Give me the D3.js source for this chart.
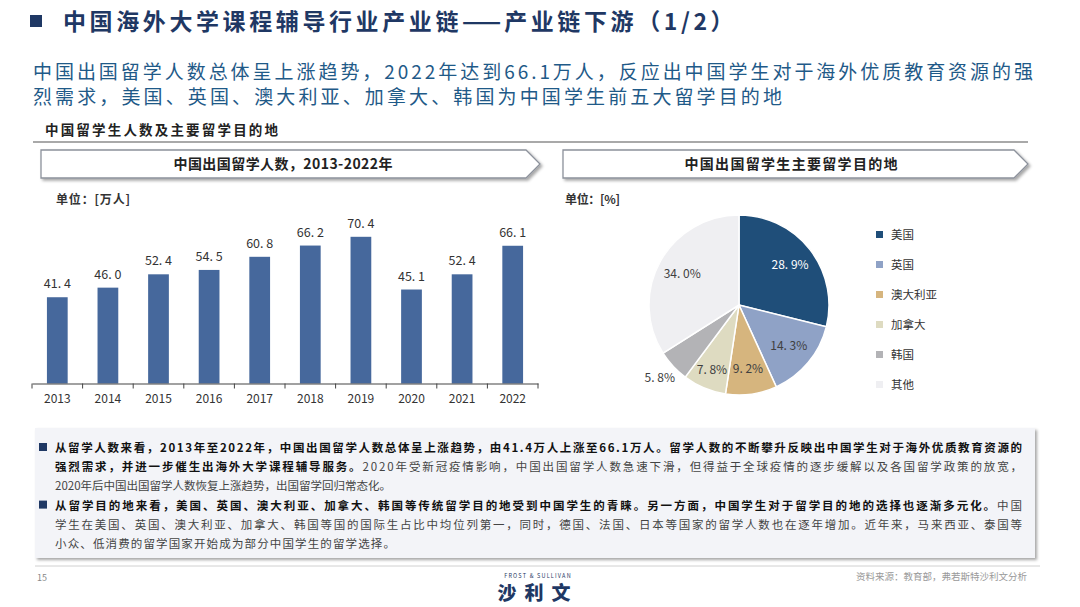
<!DOCTYPE html>
<html><head><meta charset="utf-8">
<script src="https://cdn.jsdelivr.net/npm/d3@7/dist/d3.min.js"></script>
<style>
body{margin:0;background:#fff;}
svg{display:block;font-family:"Noto Sans CJK SC","Noto Sans",sans-serif;}
</style></head>
<body>
<svg id="c" width="1080" height="607"></svg>
<script>
const years = ["2013","2014","2015","2016","2017","2018","2019","2020","2021","2022"];
const students = [41.4,46.0,52.4,54.5,60.8,66.2,70.4,45.1,52.4,66.1];
const destinations = ["美国","英国","澳大利亚","加拿大","韩国","其他"];
const shares = [28.9,14.3,9.2,7.8,5.8,34.0];
const shareColors = ["#1f4e79","#8fa2c6","#d6b57e","#dedbc1","#b3b3b6","#efeff2"];
const shareLabelColors = ["#ffffff","#404040","#404040","#404040","#404040","#404040"];

const titleParts = ["中国海外大学课程辅导行业产业链","——","产业链下游（1/2）"];
const subtitle = ["中国出国留学人数总体呈上涨趋势，2022年达到66.1万人，反应出中国学生对于海外优质教育资源的强",
                  "烈需求，美国、英国、澳大利亚、加拿大、韩国为中国学生前五大留学目的地"];
const sectionLabel = "中国留学生人数及主要留学目的地";
const barTitle = "中国出国留学人数，2013-2022年";
const pieTitle = "中国出国留学生主要留学目的地";
const notes = [
  [{t:"从留学人数来看，2013年至2022年，中国出国留学人数总体呈上涨趋势，由41.4万人上涨至66.1万人。留学人数的不断攀升反映出中国学生对于海外优质教育资源的",b:true}],
  [{t:"强烈需求，并进一步催生出海外大学课程辅导服务。",b:true},{t:"2020年受新冠疫情影响，中国出国留学人数急速下滑，但得益于全球疫情的逐步缓解以及各国留学政策的放宽，",b:false}],
  [{t:"2020年后中国出国留学人数恢复上涨趋势，出国留学回归常态化。",b:false}],
  [{t:"从留学目的地来看，美国、英国、澳大利亚、加拿大、韩国等传统留学目的地受到中国学生的青睐。另一方面，中国学生对于留学目的地的选择也逐渐多元化。",b:true},{t:"中国",b:false}],
  [{t:"学生在美国、英国、澳大利亚、加拿大、韩国等国的国际生占比中均位列第一，同时，德国、法国、日本等国家的留学人数也在逐年增加。近年来，马来西亚、泰国等",b:false}],
  [{t:"小众、低消费的留学国家开始成为部分中国学生的留学选择。",b:false}]
];
const noteLen = [967,967,null,967,967,340];
const noteBullet = [true,false,false,true,false,false];

const svg = d3.select("#c");
const defs = svg.append("defs");
const f = defs.append("filter").attr("id","sh").attr("x","-5%").attr("y","-20%").attr("width","110%").attr("height","150%");
f.append("feDropShadow").attr("dx",2).attr("dy",2).attr("stdDeviation",1.5).attr("flood-color","#000").attr("flood-opacity",0.35);

// Title
svg.append("rect").attr("x",30).attr("y",15).attr("width",12).attr("height",12).attr("fill","#1f3864");
const tt = svg.append("text").attr("x",63).attr("y",30).attr("font-size",23).attr("font-weight","bold").attr("fill","#1f3864");
tt.append("tspan").attr("letter-spacing",3.6).text(titleParts[0]);
tt.append("tspan").attr("letter-spacing",0).text(titleParts[1]);
tt.append("tspan").attr("dx",3).attr("letter-spacing",3.6).text(titleParts[2]);

// Subtitle
const subLen = [1000,749];
subtitle.forEach((s,i)=>{
  svg.append("text").attr("x",33).attr("y",79+i*25).attr("font-size",19).attr("fill","#1f5a88")
    .attr("textLength",subLen[i]).attr("lengthAdjust","spacing").text(s);
});

// Section label
svg.append("text").attr("x",45).attr("y",135).attr("font-size",13.5).attr("font-weight","bold").attr("fill","#222")
  .attr("textLength",233).attr("lengthAdjust","spacing").text(sectionLabel);
svg.append("line").attr("x1",33).attr("x2",1028).attr("y1",142).attr("y2",142).attr("stroke","#555").attr("stroke-width",1.2);

// Banners
function banner(x0,x1,label,cx,len){
  const top=150,bot=178,mid=164,tip=14;
  svg.append("path").attr("d",`M${x0},${top}L${x1-tip},${top}L${x1},${mid}L${x1-tip},${bot}L${x0},${bot}Z`)
    .attr("fill","#fff").attr("stroke","#8c919b").attr("stroke-width",1.3).attr("filter","url(#sh)");
  svg.append("text").attr("x",cx-len/2).attr("y",mid+5).attr("font-size",14)
    .attr("font-weight","bold").attr("fill","#222").attr("textLength",len).attr("lengthAdjust","spacing").text(label);
}
banner(41,540,barTitle,283,219);
banner(563,1028,pieTitle,791,213);

// Units
svg.append("text").attr("x",56).attr("y",204).attr("font-size",12).attr("font-weight","bold").attr("fill","#333")
  .attr("textLength",74).attr("lengthAdjust","spacing").text("单位：[万人]");
svg.append("text").attr("x",565).attr("y",204).attr("font-size",12).attr("font-weight","bold").attr("fill","#333")
  .attr("textLength",55).attr("lengthAdjust","spacing").text("单位：[%]");

// Bar chart
const x = d3.scaleBand().domain(years).range([32,538]).paddingInner(0.59).paddingOuter(0.295);
const y = d3.scaleLinear().domain([0,70.4]).range([383.5,236.8]);
const g = svg.append("g");
g.selectAll("rect.bar").data(students).join("rect").attr("class","bar")
  .attr("x",(d,i)=>x(years[i])).attr("width",x.bandwidth())
  .attr("y",d=>y(d)).attr("height",d=>y(0)-y(d)).attr("fill","#46689c");
g.selectAll("text.val").data(students).join("text").attr("class","val")
  .attr("x",(d,i)=>x(years[i])+x.bandwidth()/2).attr("y",d=>y(d)-9)
  .attr("text-anchor","middle").attr("font-size",12.5).attr("fill","#333")
  .text(d=>d.toFixed(1).replace(".",". "));
const xAxis = d3.axisBottom(x).tickSize(0).tickPadding(11);
const ax = g.append("g").attr("transform",`translate(0,${y(0)})`).call(xAxis);
ax.select(".domain").attr("stroke","#444").attr("stroke-width",1.2);
ax.selectAll("text").attr("font-size",12).attr("fill","#333").attr("font-family","Noto Sans CJK SC");
const step = x.step();
const seps = d3.range(years.length+1).map(i=>32+i*step);
g.selectAll("line.sep").data(seps).join("line").attr("class","sep")
  .attr("x1",d=>d).attr("x2",d=>d).attr("y1",y(0)).attr("y2",y(0)+5).attr("stroke","#444");

// Pie
const cx=739, cy=305, r=90;
const pie = d3.pie().sort(null).value(d=>d)(shares);
const arc = d3.arc().innerRadius(0).outerRadius(r);
const pg = svg.append("g").attr("transform",`translate(${cx},${cy})`);
pg.selectAll("path").data(pie).join("path").attr("d",arc)
  .attr("fill",(d,i)=>shareColors[i]).attr("stroke","#fff").attr("stroke-width",1.5);
const labelR = [0.72,0.72,0.72,0.78,1.2,0.72];
pg.selectAll("text").data(pie).join("text")
  .attr("transform",(d,i)=>{
    const a=(d.startAngle+d.endAngle)/2; const rr=r*labelR[i];
    return `translate(${Math.sin(a)*rr},${-Math.cos(a)*rr+4})`;})
  .attr("text-anchor","middle").attr("font-size",12).attr("fill",(d,i)=>shareLabelColors[i])
  .text((d,i)=>shares[i].toFixed(1).replace(".",". ")+"%");

// Legend
const lg = svg.append("g");
destinations.forEach((n,i)=>{
  lg.append("rect").attr("x",876).attr("y",231+i*30).attr("width",7).attr("height",7).attr("fill",shareColors[i]);
  lg.append("text").attr("x",891).attr("y",239+i*30).attr("font-size",11.5).attr("fill","#333").text(n);
});

// Notes box
svg.append("rect").attr("x",35).attr("y",428).attr("width",1000).attr("height",130)
  .attr("fill","#f3f4f8").attr("filter","url(#sh)");
notes.forEach((line,i)=>{
  const yy = 452+i*19.2;
  if(noteBullet[i]) svg.append("rect").attr("x",39).attr("y",yy-9).attr("width",8).attr("height",8).attr("fill","#1f3864");
  const t = svg.append("text").attr("x",55).attr("y",yy).attr("font-size",11.5).attr("fill","#222");
  if(noteLen[i]) t.attr("textLength",noteLen[i]).attr("lengthAdjust","spacing");
  line.forEach(s=>t.append("tspan").attr("font-weight",s.b?"bold":"normal").attr("fill",s.b?"#111":"#444").text(s.t));
});

// Footer
svg.append("line").attr("x1",35).attr("x2",1040).attr("y1",566).attr("y2",566).attr("stroke","#d0d0d0").attr("stroke-width",1);
svg.append("text").attr("x",37).attr("y",581).attr("font-size",9).attr("fill","#888").text("15");
svg.append("text").attr("x",538).attr("y",578).attr("text-anchor","middle").attr("font-size",5.5).attr("letter-spacing",1.2)
  .attr("fill","#1f3864").text("FROST & SULLIVAN");
svg.append("text").attr("x",538).attr("y",600).attr("text-anchor","middle").attr("font-size",19).attr("font-weight","900")
  .attr("letter-spacing",8).attr("fill","#1f3864").text("沙利文");
svg.append("text").attr("x",1027).attr("y",580).attr("text-anchor","end").attr("font-size",9.5).attr("fill","#999").text("资料来源：教育部，弗若斯特沙利文分析");
</script>
</body></html>
